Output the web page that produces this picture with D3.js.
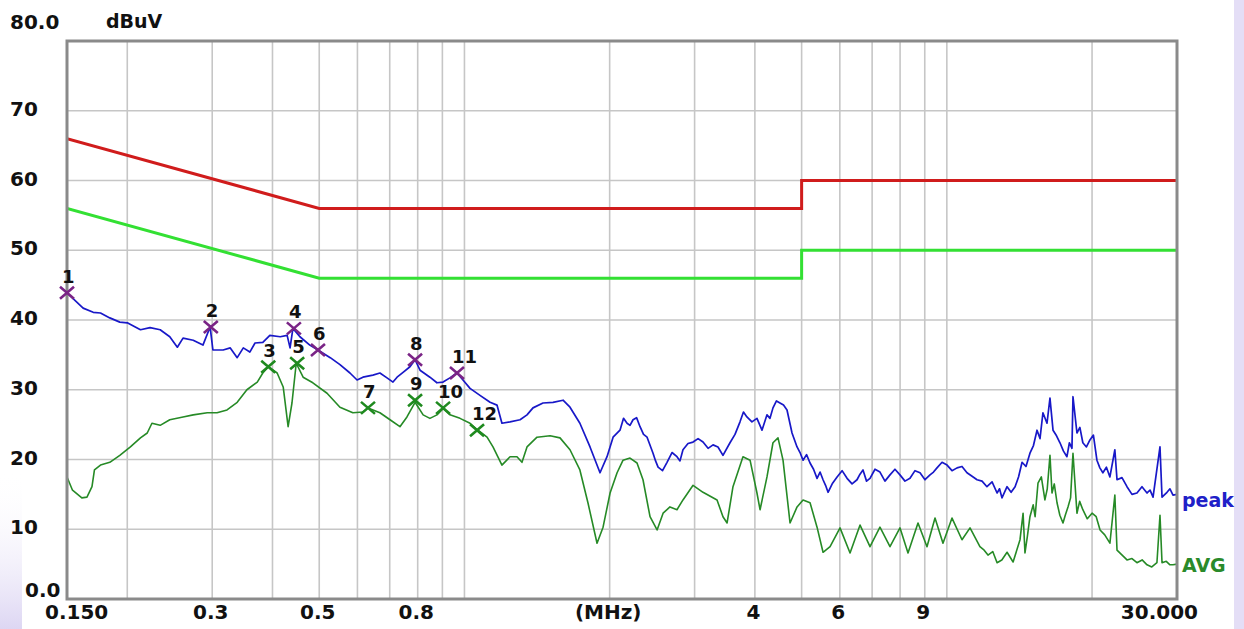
<!DOCTYPE html>
<html><head><meta charset="utf-8">
<script src="https://cdn.jsdelivr.net/npm/d3@7"></script>
<style>
html,body{margin:0;padding:0;background:#fff;}
svg{display:block;}
</style></head>
<body>
<svg id="chart" width="1244" height="629"></svg>
<script>
// ---------------- DATA ----------------
const peakFreq = [0.150,0.162,0.170,0.176,0.184,0.193,0.200,0.213,0.223,0.234,0.245,0.254,0.261,0.274,0.287,0.297,0.301,0.316,0.327,0.338,0.348,0.359,0.368,0.382,0.395,0.415,0.429,0.435,0.441,0.456,0.478,0.497,0.527,0.552,0.579,0.599,0.616,0.646,0.668,0.691,0.711,0.725,0.746,0.771,0.790,0.809,0.848,0.877,0.903,0.933,0.965,0.993,1.027,1.077,1.130,1.168,1.196,1.243,1.304,1.348,1.387,1.455,1.526,1.601,1.655,1.735,1.821,1.910,1.975,2.033,2.101,2.173,2.236,2.312,2.391,2.460,2.520,2.630,2.758,2.838,2.978,3.123,3.276,3.435,3.552,3.726,3.851,4.040,4.138,4.238,4.361,4.509,4.663,4.776,4.892,5.034,5.205,5.382,5.538,5.672,5.922,6.211,6.513,6.702,6.930,7.267,7.623,7.995,8.387,8.798,9.228,9.541,10.01,10.50,11.01,11.55,12.11,12.71,13.01,13.33,13.85,14.32,14.87,15.38,15.82,16.13,16.36,16.60,17.16,17.74,18.17,18.26,18.61,19.14,19.80,20.47,21.06,21.78,22.30,22.53,23.63,24.78,26.00,26.76,27.66,27.93,28.60,29.43,30.0];
const peakDb = [43.9,41.7,41.1,41.0,40.3,39.7,39.6,38.6,38.9,38.6,37.6,36.1,37.4,37.1,36.4,39.0,35.7,35.7,36.0,34.6,36.0,35.4,36.7,36.8,37.8,37.6,37.8,36.0,38.8,37.6,36.4,35.7,34.6,33.6,32.4,31.4,31.8,32.1,32.4,31.7,31.1,31.8,32.5,33.3,34.3,32.8,31.8,31.0,31.1,31.7,32.4,31.4,30.2,29.2,28.2,27.8,25.2,25.4,25.7,26.4,27.4,28.1,28.2,28.5,27.5,25.2,21.8,18.1,20.4,23.2,24.2,25.2,25.7,24.7,23.2,20.9,18.9,19.6,20.4,21.4,22.5,22.5,22.1,20.6,22.4,25.4,26.1,25.9,24.2,26.4,27.4,28.1,27.1,23.8,21.8,19.9,19.5,17.3,17.1,15.3,17.5,17.3,17.1,18.5,17.3,18.2,17.8,17.8,17.3,18.1,17.8,18.8,19.2,18.8,18.1,17.1,16.1,15.2,14.5,16.1,16.1,19.6,20.9,24.2,26.7,25.2,28.8,24.2,22.4,20.4,21.6,29.0,23.8,22.4,22.8,19.9,18.1,17.5,21.4,17.1,16.1,15.2,15.2,14.6,21.8,14.6,15.3,14.9,15.0];
// extra readings of the jagged part of the peak trace
const peakDetailFreq = [2.137,2.204,2.274,2.351,2.490,2.574,2.693,2.798,2.907,3.050,3.199,3.354,3.638,3.788,3.944,4.299,4.434,4.586,4.962,5.119,5.293,5.460,5.605,5.796,6.065,6.361,6.607,6.816,7.097,7.443,7.807,8.189,8.590,9.010,9.383,9.773,10.25,10.75,11.28,11.83,12.41,12.86,13.59,14.08,14.59,15.12,15.60,16.88,17.45,17.95,18.87,19.47,20.13,20.76,21.42,23.07,24.20,25.38,26.38,29.01];
const peakDetailDb = [25.9,24.9,26.0,23.6,19.8,18.4,21.0,19.8,22.3,23.0,21.6,21.8,23.6,26.8,25.4,25.9,28.4,27.8,21.0,20.7,18.6,18.2,16.3,16.6,18.4,16.5,17.9,16.9,18.6,16.9,18.6,16.9,18.4,17.1,18.2,19.6,18.4,19.0,17.6,16.9,16.8,15.8,15.3,17.5,19.0,22.0,23.0,23.4,21.2,22.4,24.6,21.8,23.5,18.8,18.9,17.4,15.0,16.1,15.6,15.8];

const avgFreq = [0.150,0.154,0.161,0.165,0.169,0.171,0.176,0.184,0.193,0.203,0.213,0.220,0.225,0.234,0.245,0.261,0.274,0.293,0.307,0.322,0.338,0.354,0.372,0.382,0.392,0.409,0.421,0.431,0.439,0.448,0.463,0.485,0.519,0.552,0.587,0.616,0.631,0.668,0.701,0.735,0.760,0.790,0.821,0.848,0.877,0.903,0.933,0.979,1.027,1.062,1.114,1.146,1.196,1.243,1.285,1.316,1.348,1.414,1.505,1.578,1.655,1.735,1.803,1.883,1.938,2.004,2.072,2.132,2.204,2.279,2.345,2.425,2.508,2.581,2.667,2.758,2.838,2.978,3.123,3.339,3.435,3.503,3.603,3.779,3.909,4.040,4.100,4.238,4.361,4.467,4.575,4.731,4.892,5.034,5.205,5.382,5.538,5.727,6.006,6.300,6.608,6.930,7.267,7.623,7.995,8.308,8.714,9.096,9.451,9.818,10.25,10.75,11.17,11.71,12.17,12.71,13.33,13.72,14.18,14.39,14.52,14.87,15.24,15.45,15.97,16.36,16.52,16.92,17.41,17.83,18.26,18.61,19.14,20.00,20.78,21.78,22.30,22.53,23.63,24.78,26.00,27.26,27.66,27.93,29.01,29.43,30.0];
const avgDb = [17.5,15.6,14.5,14.6,16.1,18.5,19.2,19.6,20.6,21.8,23.1,23.8,25.2,24.9,25.7,26.1,26.4,26.7,26.7,27.1,28.2,30.0,31.1,32.4,33.3,32.4,30.4,24.7,28.1,33.8,31.8,31.0,29.5,27.5,26.7,26.8,27.4,26.7,25.7,24.7,26.1,28.2,26.4,25.9,26.4,27.3,26.4,25.9,25.2,24.3,23.2,21.8,19.2,20.4,20.4,19.6,21.8,23.2,23.4,23.1,21.4,18.5,13.8,8.0,10.3,15.2,18.1,19.9,20.2,19.5,17.1,11.8,9.9,12.3,13.2,12.8,14.2,16.3,15.3,14.2,11.8,10.9,16.1,20.4,19.9,15.2,12.8,17.5,22.4,23.1,19.9,10.9,13.2,14.2,13.8,10.3,6.7,7.5,10.2,6.6,10.6,7.5,10.3,7.5,10.2,6.6,10.9,7.5,11.6,8.0,11.6,8.5,10.2,7.5,6.3,5.2,6.7,5.3,8.5,12.3,6.6,11.8,11.8,16.6,14.2,20.6,15.2,13.8,10.9,13.2,20.9,12.3,12.8,12.3,9.9,8.0,14.9,7.0,5.6,5.2,4.9,5.2,12.0,5.2,4.9,4.9,5.0];
// extra readings of the jagged part of the AVG trace
const avgDetailFreq = [11.95,12.45,13.00,14.69,15.10,15.70,16.15,16.70,17.15,17.60,18.05,18.85,19.55,20.40,21.25,24.20,25.40,26.60,28.50];
const avgDetailDb = [7.0,6.8,5.6,9.0,13.5,17.5,15.8,16.5,12.0,12.0,14.5,14.0,11.5,11.8,9.2,5.8,5.6,4.6,5.4];

const limitFreq = [0.15, 0.5, 5, 5, 30];
const qpLimit   = [66, 56, 56, 60, 60];
const avLimit   = [56, 46, 46, 50, 50];

const markerId   = ["1","2","3","4","5","6","7","8","9","10","11","12"];
const markerFreq = [0.150,0.298,0.392,0.443,0.450,0.497,0.631,0.790,0.790,0.903,0.965,1.062];
const markerDb   = [43.9,39.0,33.3,38.8,33.8,35.7,27.4,34.3,28.5,27.4,32.4,24.2];
const markerType = ["peak","peak","avg","peak","avg","peak","avg","peak","avg","avg","peak","avg"];

const gridFreqs = [0.2,0.3,0.4,0.5,0.6,0.7,0.8,0.9,1,2,3,4,5,6,7,8,9,10,20];
const gridDb = [10,20,30,40,50,60,70];
const xTickFreq  = [0.15,0.3,0.5,0.8,2,4,6,9,30];
const xTickLabel = ["0.150","0.3","0.5","0.8","(MHz)","4","6","9","30.000"];
const yTickDb    = [0,10,20,30,40,50,60,70,80];
const yTickLabel = ["0.0","10","20","30","40","50","60","70","80.0"];

// ---------------- CHART ----------------
const svg = d3.select("#chart");
const L = 67, R = 1177, T = 41, B = 599;
const x = d3.scaleLog().domain([0.15, 30]).range([L, R]);
const y = d3.scaleLinear().domain([0, 80]).range([B, T]);

const peakData = d3.sort(d3.zip(peakFreq, peakDb).concat(d3.zip(peakDetailFreq, peakDetailDb)), d => d[0]);
const avgData  = d3.sort(d3.zip(avgFreq, avgDb).concat(d3.zip(avgDetailFreq, avgDetailDb)), d => d[0]);

// background decoration (lavender edges)
const defs = svg.append("defs");
const lg2 = defs.append("linearGradient").attr("id","lavv").attr("x1","0").attr("x2","0").attr("y1","0").attr("y2","1");
lg2.append("stop").attr("offset","0").attr("stop-color","#ffffff").attr("stop-opacity",0);
lg2.append("stop").attr("offset","1").attr("stop-color","#ddd6f3");
svg.append("rect").attr("x",0).attr("y",470).attr("width",22).attr("height",159).attr("fill","url(#lavv)");
svg.append("rect").attr("x",1234).attr("y",0).attr("width",10).attr("height",629).attr("fill","#e4def6");

defs.append("clipPath").attr("id","plotclip")
  .append("rect").attr("x",L).attr("y",T).attr("width",R-L).attr("height",B-T);

// grid
const grid = svg.append("g");
grid.selectAll("line.v").data(gridFreqs).join("line")
  .attr("x1",d=>x(d)).attr("x2",d=>x(d)).attr("y1",T).attr("y2",B)
  .attr("stroke","#c6c6c6").attr("stroke-width",1.6);
grid.selectAll("line.h").data(gridDb).join("line")
  .attr("x1",L).attr("x2",R).attr("y1",d=>y(d)).attr("y2",d=>y(d))
  .attr("stroke","#c6c6c6").attr("stroke-width",1.6);

const plot = svg.append("g").attr("clip-path","url(#plotclip)");
const line = d3.line().x(d=>x(d[0])).y(d=>y(d[1]));

// limit lines
plot.append("path").datum(d3.zip(limitFreq, qpLimit)).attr("d", line)
  .attr("fill","none").attr("stroke","#d01c1c").attr("stroke-width",3);
plot.append("path").datum(d3.zip(limitFreq, avLimit)).attr("d", line)
  .attr("fill","none").attr("stroke","#33e033").attr("stroke-width",3);

// traces
plot.append("path").datum(avgData).attr("d", line)
  .attr("fill","none").attr("stroke","#268a26").attr("stroke-width",1.6).attr("stroke-linejoin","round");
plot.append("path").datum(peakData).attr("d", line)
  .attr("fill","none").attr("stroke","#1818c8").attr("stroke-width",1.7).attr("stroke-linejoin","round");

// frame
svg.append("rect").attr("x",L).attr("y",T).attr("width",R-L).attr("height",B-T)
  .attr("fill","none").attr("stroke","#8a8a8a").attr("stroke-width",3);

// markers
const mk = svg.append("g");
markerId.forEach((id,i)=>{
  const cx = x(markerFreq[i]), cy = y(markerDb[i]);
  const col = markerType[i]==="peak" ? "#7a2486" : "#1f8a1f";
  mk.append("path")
    .attr("d",`M${cx-7},${cy-6}L${cx+7},${cy+6}M${cx-7},${cy+6}L${cx+7},${cy-6}`)
    .attr("stroke",col).attr("stroke-width",2.6).attr("fill","none");
  mk.append("text").attr("x",cx-5).attr("y",cy-10)
    .attr("font-family","DejaVu Sans").attr("font-weight","bold").attr("font-size",18)
    .attr("fill","#111").text(id);
});

// axis labels
const tf = {family:"DejaVu Sans", weight:"bold", size:20};
const xt = svg.append("g");
xTickFreq.forEach((f,i)=>{
  let px = x(f) - 1.5, anchor = "middle";
  if (i===0){ px = 45; anchor = "start"; }
  if (i===xTickFreq.length-1){ px = 1198; anchor = "end"; }
  xt.append("text").attr("x",px).attr("y",619).attr("text-anchor",anchor)
    .attr("font-family",tf.family).attr("font-weight",tf.weight).attr("font-size",tf.size)
    .attr("fill","#111").text(xTickLabel[i]);
});
const yt = svg.append("g");
yTickDb.forEach((v,i)=>{
  let px = 10, py = y(v) + 5;
  if (v===0){ px = 25; py = 597; }
  if (v===80){ py = 29; }
  yt.append("text").attr("x",px).attr("y",py)
    .attr("font-family",tf.family).attr("font-weight",tf.weight).attr("font-size",tf.size)
    .attr("fill","#111").text(yTickLabel[i]);
});
svg.append("text").attr("x",106).attr("y",28)
  .attr("font-family",tf.family).attr("font-weight","bold").attr("font-size",19)
  .attr("fill","#111").text("dBuV");

// legend labels
svg.append("text").attr("x",1182).attr("y",507)
  .attr("font-family",tf.family).attr("font-weight","bold").attr("font-size",19)
  .attr("fill","#2020c8").text("peak");
svg.append("text").attr("x",1182).attr("y",572)
  .attr("font-family",tf.family).attr("font-weight","bold").attr("font-size",19)
  .attr("fill","#2a8a2a").text("AVG");
</script>
</body></html>
